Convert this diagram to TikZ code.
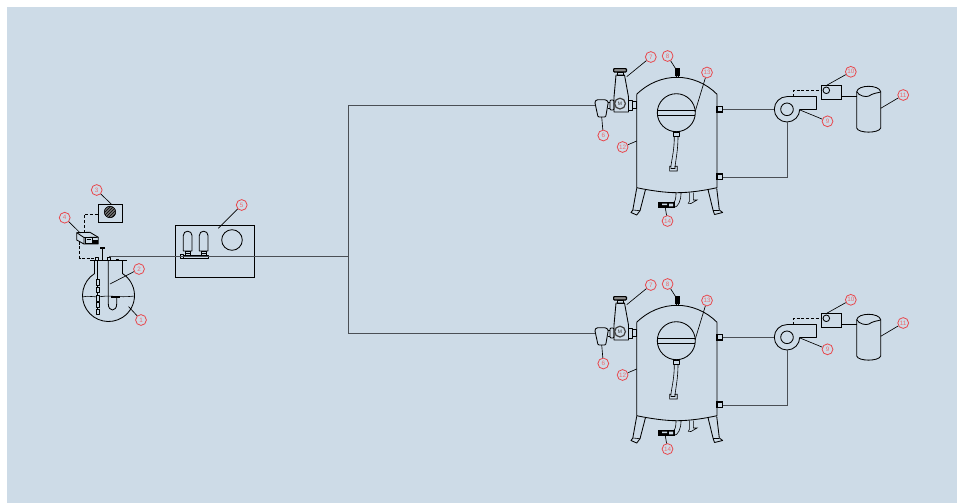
\documentclass[tikz,border=0pt]{standalone}
\usepackage{fontspec}
\setmainfont{Liberation Sans}
\usetikzlibrary{patterns}
\definecolor{bgblue}{HTML}{CDDBE7}
\definecolor{tagred}{HTML}{E8474C}
\definecolor{pipegray}{HTML}{4A4F55}
\tikzset{
  eq/.style={draw=black,line width=0.85pt,line join=round},
  thin eq/.style={draw=black,line width=0.6pt},
  thick nozzle/.style={draw=black,line width=1.2pt},
  heavy/.style={draw=black,fill=black,line width=0.5pt},
  pipe/.style={draw=pipegray,line width=0.5pt},
  signal/.style={draw=black,line width=0.85pt,dash pattern=on 3pt off 1.8pt},
  lead/.style={draw=black,line width=0.65pt},
  tag/.style={circle,draw=tagred,line width=0.8pt,minimum size=10.8pt,inner sep=0pt,text=tagred!80,font=\fontsize{6.3}{6.3}\selectfont},
  unit/.pic={
    % vessel
    \draw[eq] (636.7,94.3) -- (636.7,187.7) .. controls (650,190.5) and (665,192.7) .. (677,192.7) .. controls (690,192.7) and (704,190.5) .. (717,187.7) -- (717,94.3);
    \draw[eq] (636.7,94.3) .. controls (648,83) and (663,77.3) .. (677,77.3) .. controls (691,77.3) and (706,83) .. (717,94.3);
    \draw[eq] (676.3,112.7) circle (19);
    \draw[eq] (657.6,110.7) -- (695,110.7) (657.6,115) -- (695,115);
    \draw[eq] (673.3,132) rectangle (679.3,136.3);
    \draw[thin eq] (674.3,136.3) .. controls (674.3,150) and (672,158) .. (670.8,167);
    \draw[thin eq] (678,136.3) .. controls (678,150) and (676,158) .. (675,167);
    \draw[thin eq] (669.6,166.2) -- (670.8,166.2) -- (671,168.5) -- (675,168.5) -- (675,166.2) -- (677.2,166.2) -- (677.2,171) -- (669.6,171) -- cycle;
    % nozzles
    \draw[heavy] (675.3,68.3) rectangle (679.1,75.7);
    \draw[thin eq] (676,75.7) rectangle (678.6,77.3);
    \draw[thick nozzle] (632.7,101.2) rectangle (636.7,108.6);
    \draw[thick nozzle] (717,106.3) rectangle (722.5,111.9);
    \draw[thick nozzle] (717,174) rectangle (722.5,179.4);
    \coordinate (-n1) at (722.5,109);
    \coordinate (-n2) at (722.5,177);
    % legs
    \draw[eq] (636.7,188.3) -- (632.8,210) -- (631,212.5) -- (636.7,215) -- (640,210.7) -- (645.5,189.5);
    \draw[thin eq] (632.8,210) -- (640,210.7);
    \draw[eq] (708,189.5) -- (713,210) -- (714.5,214.5) -- (722.7,212.5) -- (719.3,210) -- (716.7,188.3);
    \draw[thin eq] (713,210) -- (719.3,210);
    % drain and valve
    \draw[heavy] (658.5,202) rectangle (674,207.7);
    \draw[draw=none,fill=bgblue] (662,203.5) rectangle (667,205) (669,203.5) rectangle (673,206.3);
    \draw[thin eq] (674,207.5) .. controls (678,207) and (681,201) .. (681,193);
    \draw[thin eq] (674,202) .. controls (675.5,201) and (676,197) .. (676,193);
    \draw[thin eq] (689.3,192.5) -- (689.3,201.5) -- (688.3,203.3) -- (691,203.5) -- (697,200) -- (693.3,200) -- (693.3,192.5);
    % valve assembly
    \draw[thick nozzle,fill=black!45,rounded corners=0.8pt] (613.6,68.6) rectangle (626.4,72);
    \draw[eq] (617.9,72) rectangle (623.1,75);
    \draw[eq] (616,75) -- (624.5,75) -- (628.5,97) -- (628.5,112) -- (614,112) -- (614,97) -- cycle;
    \draw[eq,rounded corners=1pt] (610,100) rectangle (614,110);
    \draw[eq] (628.5,100) rectangle (632,110);
    \draw[line width=1.2pt,draw=black!75,fill=bgblue] (620,103.6) circle (5.4);
    \node[inner sep=0pt,font=\fontsize{5}{5}\selectfont,text=black!80] (-m) at (620,103.6) {M};
    % filter
    \draw[eq,rounded corners=1pt] (594.8,102) -- (596.5,99.8) -- (606,99.8) -- (608.3,102) -- (605.7,117) -- (598,117) -- cycle;
    \draw[eq] (608.3,102.5) -- (610,102.5) (607.5,108) -- (610,108);
    \coordinate (-in) at (594.8,105);
    % fan
    \draw[eq] (787,96.6) arc (270:0:12.7);
    \draw[eq] (787,109.3) circle (6.3);
    \draw[eq] (787,96.6) -- (816.7,96.6) -- (816.7,109.3) -- (799.7,109.3);
    \coordinate (-fl) at (774.3,109);
    \coordinate (-fb) at (787,122);
    \coordinate (-fc) at (787,177);
    \draw[pipe] (-n1) -- (-fl);
    \draw[pipe,line width=0.7pt] (-n2) -- (-fc) -- (-fb);
    \node[draw=black,line width=0.85pt,minimum width=20.3pt,minimum height=14pt,inner sep=0pt] (-pb) at (831.2,92.3) {};
    \draw[eq] (826.3,90.3) circle (3.3);
    \draw[signal] (793.3,96.6) -- (793.3,90.3) -- (821,90.3);
    % tank
    \draw[eq] (856.7,91.7) -- (856.7,128) .. controls (858,133.5) and (879,133.5) .. (880.7,128) -- (880.7,91.7);
    \draw[eq] (856.7,91.7) .. controls (858,84.5) and (879,84.5) .. (880.7,91.7);
    \draw[eq] (856.7,91.7) .. controls (859,96) and (866,97.5) .. (869,96) .. controls (872,93.5) and (877,93) .. (880.7,92);
    \draw[draw=black,line width=1.5pt] (841.3,96.7) -- (856.7,96.7);
    % tags
    \node[tag] (-t6) at (603.3,135.5) {6};
    \node[tag] (-t7) at (650.8,57) {7};
    \node[tag] (-t8) at (667.6,56) {8};
    \node[tag] (-t9) at (827.5,121.3) {9};
    \node[tag] (-t10) at (850.8,71.8) {10};
    \node[tag] (-t11) at (903.2,95) {11};
    \node[tag] (-t12) at (622.6,147) {12};
    \node[tag] (-t13) at (707,72.5) {13};
    \node[tag] (-t14) at (667.5,221) {14};
    \draw[lead] (-t6) -- (601.7,117);
    \draw[lead] (-t7) -- (626.7,76.7);
    \draw[lead] (-t8) -- (675.5,68.5);
    \draw[lead] (-t9) -- (800,110);
    \draw[lead] (-t10) -- (826.7,85.3);
    \draw[lead] (-t11) -- (880.7,108.3);
    \draw[lead] (-t12) -- (636.7,141);
    \draw[lead] (-t13) -- (695,112);
    \draw[lead] (-t14) -- (665.3,207.7);
  }
}
\begin{document}
\begin{tikzpicture}[x=1pt,y=-1pt]
\useasboundingbox (0,0) rectangle (957,503);
\fill[bgblue] (7,7) rectangle (957,503);
% flask
\draw[eq] (94.5,261) -- (94.5,273.6) arc (237.4:-57.4:26) -- (122.5,261);
\draw[eq] (90,260.7) -- (126.7,260.7);
\draw[thin eq] (82.5,297) .. controls (90,295) and (95,298) .. (102,296.5) .. controls (110,295) and (118,298) .. (134.5,296);
\draw[eq] (108.3,261) -- (108.3,304) .. controls (108.3,312) and (116.7,312) .. (116.7,304) -- (116.7,296);
\draw[heavy] (111.7,296) rectangle (119,297.5);
\draw[eq] (97.7,261) -- (97.7,313);
\foreach \a/\b in {279/285,287.5/292.5,295/301,302.5/307.5,309.5/314.5}{
  \draw[eq,fill=bgblue] (96,\a) rectangle (99.4,\b);
}
\draw[eq] (102.3,248) -- (102.3,260.7);
\draw[heavy] (100,247) rectangle (104.5,248.5);
\draw[eq] (95.5,257.5) rectangle (98.7,260.7);
\draw[eq] (107.5,257.3) rectangle (110.5,260.7);
\draw[eq] (116,259) rectangle (118.5,260.7);
% tags for flask etc
\node[tag] (t1) at (141,320) {1};
\node[tag] (t2) at (139,269) {2};
\node[tag] (t3) at (96.7,190) {3};
\node[tag] (t4) at (64.7,217.7) {4};
\node[tag] (t5) at (241.7,205) {5};
\draw[lead] (t1) -- (128.5,306.5);
\draw[lead] (t2) -- (110,284);
% box 3
\node[draw=black,line width=0.85pt,minimum width=24.4pt,minimum height=18pt,inner sep=0pt] (b3) at (110.5,213.3) {};
\draw[black,line width=0.6pt,fill=black!55] (110,212) circle (5.7);
\draw[pattern=north east lines,pattern color=black,draw=none] (110,212) circle (5.7);
\draw[lead] (t3) -- (111.5,204.3);
% box 4
\draw[eq] (76.7,232.7) -- (90,232.3) -- (98.3,237.3) -- (98.3,244) -- (84,244) -- (76.7,240) -- cycle;
\draw[eq] (84,237.5) -- (98.3,237.3) (84,237.5) -- (84,244) (76.7,232.7) -- (84,237.5);
\draw[thin eq] (85.5,237.5) rectangle (92,243) (86.5,239.5) -- (91,239.5);
\draw[heavy] (93,240) rectangle (97,243.7);
\coordinate (b4t) at (84.3,232.5);
\coordinate (b4b) at (79.5,241.5);
\coordinate (fp) at (95.5,258.5);
\draw[signal] (b4t) |- (98.3,214);
\draw[signal] (b4b) |- (fp);
\draw[lead] (t4) -- (80,232.7);
% box 5
\node[draw=black,line width=0.85pt,minimum width=79pt,minimum height=52pt,inner sep=0pt] (b5) at (215.2,251) {};
\draw[eq] (232,240) circle (10.3);
\foreach \xx in {183.3,199.3}{
  \draw[eq] (\xx,251) -- (\xx,235.5) arc (180:360:4.35) -- (\xx+8.7,251) -- cycle;
  \draw[thin eq] (\xx+1.7,251) rectangle (\xx+7,255);
  \draw[thin eq] (\xx+1.7,253) -- (\xx+7,253);
}
\draw[eq] (181.7,255.2) rectangle (208.3,258.2);
\draw[eq,fill=bgblue] (180.7,254.8) rectangle (183,258.6);
\draw[lead] (t5) -- (218.3,228.3);
% main piping
\coordinate (src) at (109,256.5);
\coordinate (bus) at (348.6,256.5);
\pic (ua) at (0,0) {unit};
\pic (ub) at (0,228) {unit};
\draw[pipe] (src) -- (bus);
\draw[pipe] (ua-in) -| (bus);
\draw[pipe] (ub-in) -| (bus);
\end{tikzpicture}
\end{document}
